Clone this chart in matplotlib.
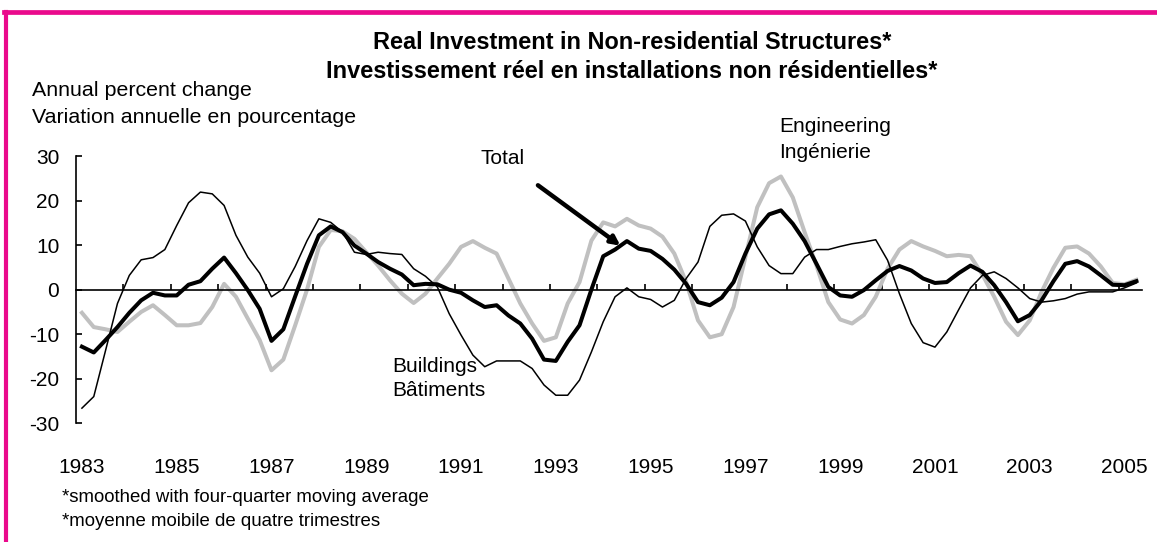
import numpy as np
import matplotlib
matplotlib.use('Agg')
import matplotlib.pyplot as plt
from matplotlib.lines import Line2D

plt.rcParams['font.family'] = ['Liberation Sans', 'DejaVu Sans']

# quarterly data, 1983Q1 - 2005Q2, four-quarter moving average (annual % change)
start_year = 1983
buildings = [-26.6, -24.0, -13.6, -3.1, 3.2, 6.7, 7.2, 9.0, 14.4, 19.5,
             21.9, 21.5, 18.9, 12.2, 7.3, 3.7, -1.6, 0.2, 5.2, 11.0,
             15.9, 15.1, 12.9, 8.4, 7.9, 8.4, 8.1, 7.9, 4.7, 3.0,
             0.6, -5.4, -10.2, -14.7, -17.3, -16.0, -16.0, -16.0, -17.7, -21.4,
             -23.7, -23.7, -20.3, -14.0, -7.2, -1.6, 0.4, -1.6, -2.2, -3.9,
             -2.4, 2.5, 6.2, 14.2, 16.7, 17.0, 15.4, 9.6, 5.4, 3.6,
             3.6, 7.3, 9.0, 9.0, 9.7, 10.3, 10.7, 11.2, 6.6, -0.9,
             -7.6, -11.9, -12.9, -9.5, -4.5, 0.4, 3.2, 4.0, 2.5, 0.4,
             -2.0, -2.8, -2.5, -2.0, -1.0, -0.5, -0.5, -0.5, 0.4, 1.5]
engineering = [-5.2, -8.4, -8.9, -9.5, -7.2, -5.0, -3.5, -5.7, -8.0, -8.0,
               -7.5, -3.9, 1.3, -1.6, -6.5, -11.3, -18.1, -15.7, -8.0, 0.0,
               9.6, 13.4, 13.1, 11.4, 8.4, 5.4, 2.1, -0.9, -3.0, -0.9,
               2.5, 5.8, 9.6, 10.9, 9.4, 8.1, 2.5, -3.1, -7.6, -11.5,
               -10.7, -3.1, 1.7, 11.0, 15.1, 14.2, 15.9, 14.4, 13.7, 11.9,
               8.1, 1.7, -6.9, -10.7, -10.0, -3.9, 7.3, 18.5, 23.9, 25.4,
               20.7, 12.9, 5.4, -2.8, -6.7, -7.6, -5.7, -1.6, 4.7, 9.0,
               10.9, 9.7, 8.7, 7.5, 7.8, 7.5, 3.4, -1.6, -7.2, -10.2,
               -6.9, -0.5, 4.9, 9.4, 9.7, 8.1, 5.2, 1.5, 1.2, 2.2]
total = [-12.8, -14.1, -11.3, -8.4, -5.2, -2.4, -0.7, -1.3, -1.3, 1.1,
         1.9, 4.7, 7.2, 3.7, -0.1, -4.3, -11.5, -8.9, -1.5, 5.8,
         12.2, 14.2, 12.9, 9.9, 8.1, 6.2, 4.7, 3.4, 1.0, 1.3,
         1.2, 0.0, -0.7, -2.4, -3.9, -3.5, -5.8, -7.6, -11.0, -15.7,
         -16.0, -11.7, -8.0, 0.0, 7.5, 9.0, 10.9, 9.2, 8.7, 6.9,
         4.5, 1.3, -2.8, -3.5, -1.8, 1.7, 8.1, 13.7, 16.9, 17.8,
         14.8, 10.9, 5.8, 0.6, -1.3, -1.6, -0.1, 2.1, 4.2, 5.3,
         4.3, 2.5, 1.5, 1.7, 3.7, 5.4, 4.0, 1.0, -2.8, -7.1,
         -5.7, -2.4, 1.9, 5.8, 6.4, 5.2, 3.2, 1.1, 1.0, 1.9]
year_labels = list(range(1983, 2006, 2))
y_ticks = [-30, -20, -10, 0, 10, 20, 30]

x = start_year + np.arange(len(total)) / 4

W, H = 1157, 542
def fx(px):
    return px / W
def fy(py):
    return 1 - py / H

fig = plt.figure(figsize=(W / 100, H / 100), dpi=100)
ax = fig.add_axes([fx(76), fy(423.3), (1142.3 - 76) / W, (423.3 - 156) / H])

ax.plot(x, engineering, color='#c0c0c0', lw=2.9)
ax.plot(x, buildings, color='black', lw=1.1)
ax.plot(x, total, color='black', lw=2.9)

ax.set_xlim(start_year - 0.125, x[-1] + 0.125)
ax.set_ylim(-30, 30)
ax.set_yticks(y_ticks)
ax.set_yticklabels([str(v) for v in y_ticks])

# year tick marks sit on the zero line, between the quarters
ax.spines['bottom'].set_position(('data', 0))
ax.spines['bottom'].set_linewidth(1.2)
ax.spines['left'].set_linewidth(1.2)
ax.spines['top'].set_visible(False)
ax.spines['right'].set_visible(False)
ax.set_xticks(np.arange(start_year - 0.125 + 1, x[-1], 1.0))
ax.tick_params(axis='x', direction='in', length=4, width=1.2, labelbottom=False)
ax.tick_params(axis='y', direction='in', length=4, width=1.2, pad=12, labelsize=15)

sec = ax.secondary_xaxis(0.0)
sec.set_xticks(year_labels)
sec.set_xticklabels([str(y) for y in year_labels])
sec.tick_params(length=0, pad=25, labelsize=15)
sec.spines['bottom'].set_visible(False)

# titles and notes
fig.text(fx(632), fy(42), 'Real Investment in Non-residential Structures*',
         ha='center', va='center', fontsize=16.9, weight='bold')
fig.text(fx(632), fy(72), 'Investissement réel en installations non résidentielles*',
         ha='center', va='center', fontsize=16.9, weight='bold')
fig.text(fx(32), fy(90), 'Annual percent change', va='center', fontsize=15.4)
fig.text(fx(32), fy(118), 'Variation annuelle en pourcentage', va='center', fontsize=15.4)
fig.text(fx(62), fy(497), '*smoothed with four-quarter moving average', va='center', fontsize=13.4)
fig.text(fx(62), fy(521), '*moyenne moibile de quatre trimestres', va='center', fontsize=13.4)

# series labels
fig.text(fx(503), fy(159), 'Total', ha='center', va='center', fontsize=15)
fig.text(fx(779), fy(126), 'Engineering', va='center', fontsize=15)
fig.text(fx(779), fy(152), 'Ingénierie', va='center', fontsize=15)
fig.text(fx(392), fy(367), 'Buildings', va='center', fontsize=15)
fig.text(fx(392), fy(391), 'Bâtiments', va='center', fontsize=15)

ax.annotate('', xy=(1994.41, 9.5), xytext=(1992.575, 23.8),
            arrowprops=dict(arrowstyle='-|>', lw=3.2, color='black', mutation_scale=13))

# magenta frame (top and left edges)
frame = '#ea0a8c'
fig.add_artist(Line2D([fx(4), 1], [fy(11.7), fy(11.7)], color=frame, lw=3.4,
                      transform=fig.transFigure))
fig.add_artist(Line2D([fx(6), fx(6)], [0, fy(11.7)], color=frame, lw=3,
                      transform=fig.transFigure))

fig.savefig('out.png', dpi=100, facecolor='white')
